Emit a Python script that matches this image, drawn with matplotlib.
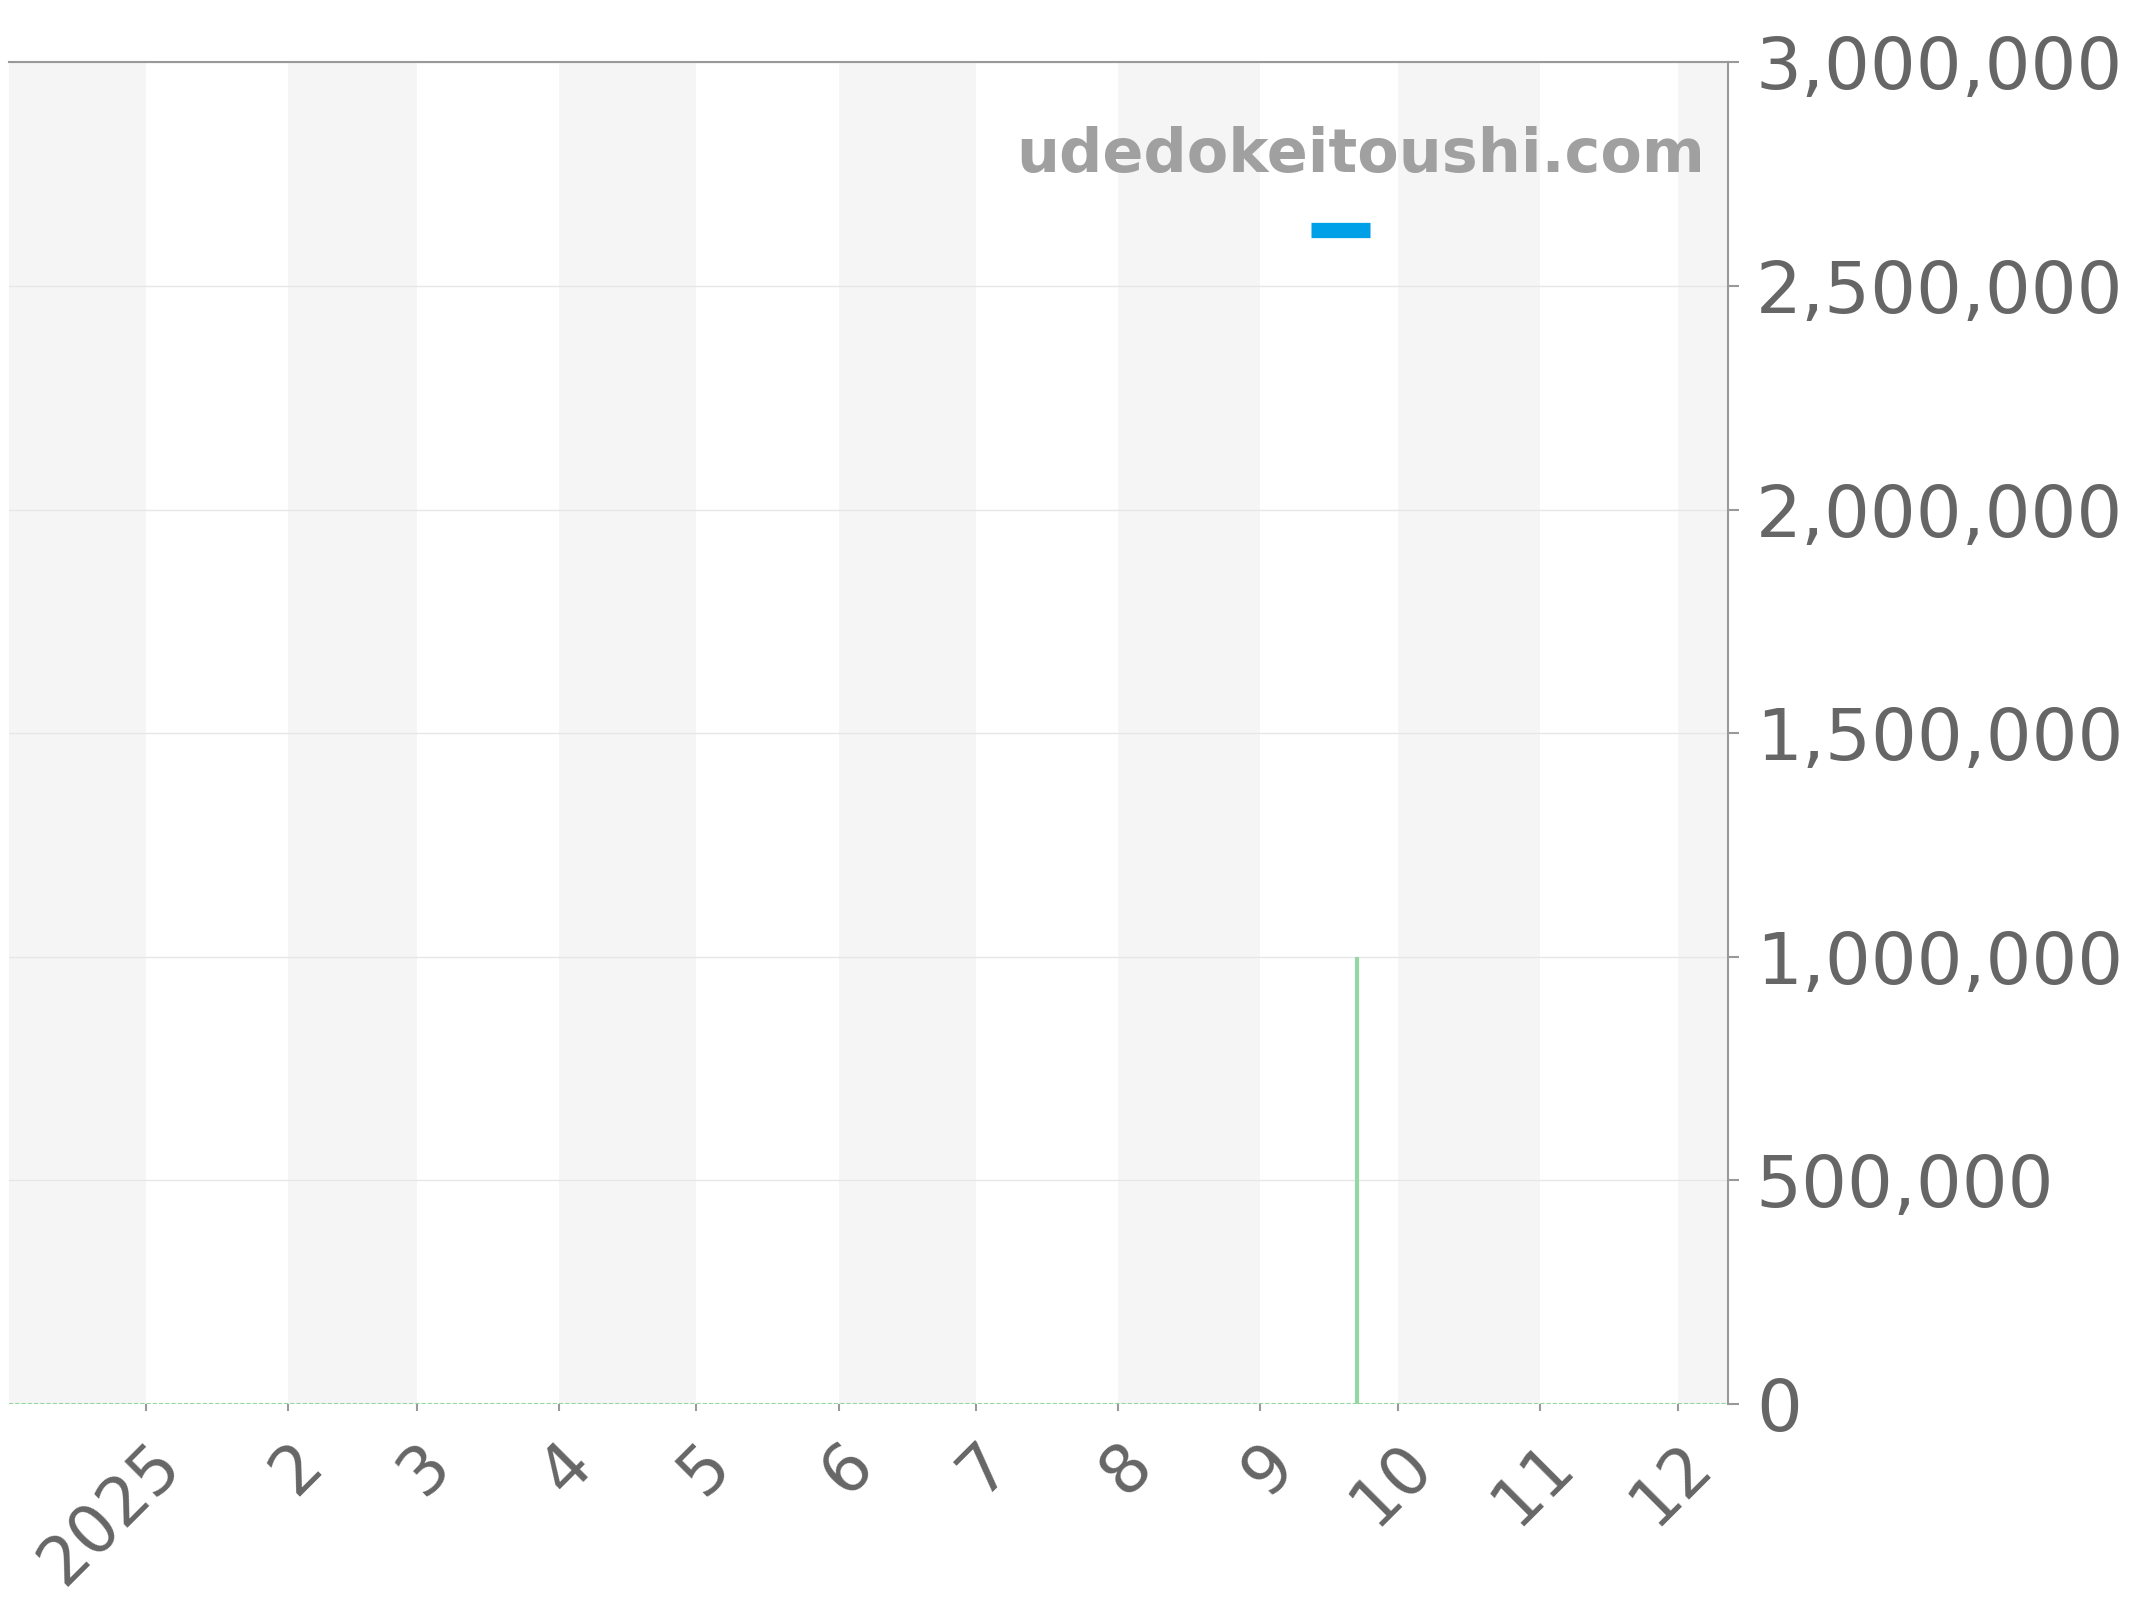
import numpy as np
import pandas as pd
import matplotlib
matplotlib.use("Agg")
import matplotlib.pyplot as plt
import matplotlib.dates as mdates
from matplotlib.lines import Line2D

# data
sale_dates = pd.to_datetime(["2025-09-22"])
sale_prices = [1000000]
x_start, x_end = pd.Timestamp("2024-12-02"), pd.Timestamp("2025-12-12")
y_ticks = [0, 500000, 1000000, 1500000, 2000000, 2500000, 3000000]
watermark = "udedokeitoushi.com"

grey_txt = "#666666"
green = "#93d8a2"
blue = "#00a0e9"

fig = plt.figure(figsize=(21.44, 16), dpi=100)
ax = fig.add_axes([0.004, 0.1225, 0.802, 0.8385])

# alternating month bands
months = pd.date_range("2024-12-01", "2026-01-01", freq="MS")
for a, b in zip(months[:-1], months[1:]):
    if a.month % 2 == 0:
        ax.axvspan(a, b, color="#f5f5f5", lw=0, zorder=0)

ax.plot([x_start, x_end], [0, 0], color=green, lw=1.5, ls=(0, (2, 1)), zorder=2)
ax.vlines(sale_dates, 0, sale_prices, color=green, lw=3, zorder=3)

ax.set_xlim(x_start, x_end)
ax.set_ylim(0, 3000000)

ax.yaxis.tick_right()
ax.set_yticks(y_ticks)
ax.set_yticklabels([f"{v:,}" for v in y_ticks])
ax.grid(axis="y", color="#e6e6e6", lw=1)
ax.set_axisbelow(True)

tick_dates = pd.date_range("2025-01-01", "2025-12-01", freq="MS")
ax.set_xticks(tick_dates)
ax.set_xticklabels(["2025"] + [str(d.month) for d in tick_dates[1:]])

ax.tick_params(axis="y", colors="#999999", labelcolor=grey_txt, labelsize=52,
               length=8, width=1.5, pad=12)
ax.tick_params(axis="x", colors="#999999", labelcolor=grey_txt, labelsize=48,
               length=5, width=1.5, pad=14)
for lab in ax.get_xticklabels():
    lab.set_rotation(45)
    lab.set_rotation_mode("anchor")
    lab.set_ha("right")
    lab.set_va("top")

for side in ["left", "bottom"]:
    ax.spines[side].set_visible(False)
for side in ["top", "right"]:
    ax.spines[side].set_color("#999999")
    ax.spines[side].set_linewidth(1.5)

h = Line2D([], [], color=blue, lw=11, solid_capstyle="butt")
leg = ax.legend([h], [""], loc="upper right", bbox_to_anchor=(1.007, 0.979),
                frameon=False, title=watermark,
                title_fontproperties={"size": 43.5, "weight": "bold"},
                handlelength=1.18, fontsize=36, borderaxespad=0.3,
                handletextpad=0.8)
leg.get_title().set_color("#a0a0a0")

fig.savefig("out.png", dpi=100, facecolor="white")
